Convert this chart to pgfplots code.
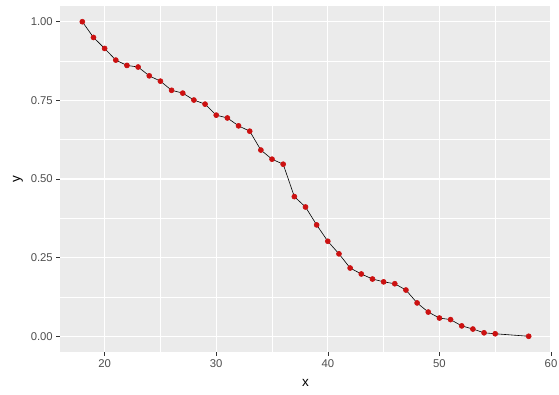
\documentclass[border=0pt]{standalone}
\usepackage{pgfplots}
\pgfplotsset{compat=1.18}
\usepackage{fontspec}
\setmainfont{Liberation Sans}
\definecolor{panel}{HTML}{EBEBEB}
\definecolor{ticktxt}{HTML}{4D4D4D}
\definecolor{tickln}{HTML}{333333}
\definecolor{pt}{HTML}{CC1111}
\begin{document}
\begin{tikzpicture}
\useasboundingbox (-60pt,-43pt) rectangle (499pt,352pt);
\begin{axis}[
  at={(0,0)}, anchor=south west,
  scale only axis, width=491pt, height=346pt,
  xmin=16, xmax=60, ymin=-0.05, ymax=1.05,
  xtick={20,30,40,50,60}, ytick={0,0.25,0.5,0.75,1},
  minor xtick={25,35,45,55}, minor ytick={0.125,0.375,0.625,0.875},
  grid=both,
  major grid style={white, line width=1.1pt},
  minor grid style={white, line width=0.55pt},
  axis background/.style={fill=panel},
  axis line style={draw=none},
  xtick pos=left, ytick pos=left,
  tick align=outside, major tick length=3.7pt, minor tick length=0pt,
  major tick style={tickln, line width=0.55pt},
  /pgf/number format/assume math mode=true,
  yticklabel={\pgfmathprintnumber[fixed, fixed zerofill, precision=2]{\tick}},
  ticklabel style={font=\fontsize{11.3}{12}\selectfont, text=ticktxt},
  xlabel={x}, ylabel={y},
  label style={font=\fontsize{13.5}{15}\selectfont, text=black},
  xlabel style={yshift=-5pt},
  ylabel style={yshift=1pt},
]
\addplot[black, line width=0.6pt, mark=*, mark size=2.5pt, mark options={pt, draw=pt}] coordinates {
(18,1.000) (19,0.950) (20,0.915) (21,0.878) (22,0.861) (23,0.856) (24,0.828)
(25,0.811) (26,0.782) (27,0.773) (28,0.751) (29,0.738) (30,0.703) (31,0.694)
(32,0.669) (33,0.652) (34,0.592) (35,0.563) (36,0.547) (37,0.444) (38,0.411)
(39,0.354) (40,0.302) (41,0.262) (42,0.217) (43,0.198) (44,0.182) (45,0.173)
(46,0.167) (47,0.147) (48,0.106) (49,0.077) (50,0.058) (51,0.053) (52,0.033)
(53,0.023) (54,0.011) (55,0.008) (58,0.000)
};
\end{axis}
\end{tikzpicture}
\end{document}
